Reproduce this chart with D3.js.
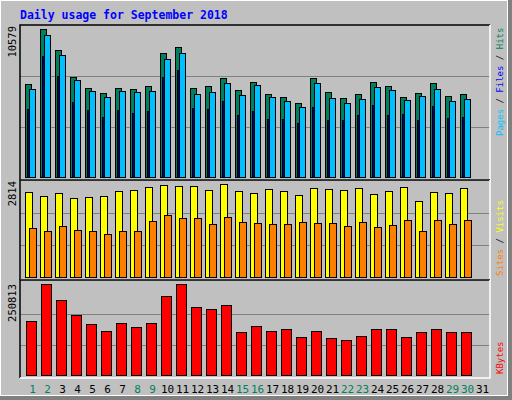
<!DOCTYPE html>
<html><head><meta charset="utf-8">
<script src="https://cdn.jsdelivr.net/npm/d3@7"></script>
<style>body{margin:0;background:#fff}</style>
</head><body><div class="chart"></div>
<script>
// daily values for September 2018
var days = d3.range(1, 32);
var weekends = [1, 2, 8, 9, 15, 16, 22, 23, 29, 30];
var hits = [6516,10369,8898,7006,6235,5885,6235,6165,6375,8687,9107,6235,6375,6936,6095,6656,5815,5605,5184,6936,5955,5535,5815,6656,6375,5605,5885,6586,5675,5815];
var files = [6165,9948,8547,6796,6025,5605,6025,5955,6025,8267,8687,5815,5955,6586,5745,6445,5605,5324,4904,6586,5535,5184,5465,6305,6095,5394,5675,6165,5324,5465];
var pages = [4764,8477,7076,5254,4694,4203,4694,4484,4624,7006,7496,4834,4764,5324,4344,4624,4063,4063,3783,4904,3993,3993,4344,5044,4344,4414,3993,4974,4133,4203];
var visits = [2481,2363,2451,2304,2334,2363,2510,2540,2628,2687,2657,2657,2540,2716,2510,2451,2569,2510,2392,2598,2569,2540,2598,2422,2510,2628,2216,2481,2451,2598];
var sites = [1422,1363,1481,1392,1363,1275,1363,1363,1628,1804,1716,1716,1539,1745,1598,1569,1539,1539,1598,1569,1569,1481,1598,1451,1510,1657,1363,1657,1539,1657];
var kbytes = [149207,250813,206875,165683,140968,121745,143714,132730,143714,217860,250813,187653,182160,193145,118999,135475,121745,127237,105268,121745,102522,97030,108014,127237,127237,105268,118999,127237,118999,118999];
var maxHits = 10579, maxVisits = 2814, maxKB = 250813;

var svg = d3.select(".chart").append("svg").attr("width", 512).attr("height", 400)
  .style("font-family", "DejaVu Sans Mono, monospace");

// frame
svg.append("rect").attr("width", 512).attr("height", 400).attr("fill", "#c0c0c0");
svg.append("rect").attr("x", 508).attr("width", 4).attr("height", 400).attr("fill", "#808080");
svg.append("rect").attr("y", 396).attr("width", 512).attr("height", 4).attr("fill", "#808080");
svg.append("rect").attr("x", 0.5).attr("y", 0.5).attr("width", 507).attr("height", 395).attr("fill", "none").attr("stroke", "#fff");

svg.append("text").attr("x", 20).attr("y", 19).attr("fill", "#0000ff")
  .attr("font-size", 11.5).attr("font-weight", "bold").text("Daily usage for September 2018");

var x = d3.scaleBand().domain(days).range([20, 485]);
var left = 20, right = 490;

function panel(y0, y1, top, max) {
  var y = d3.scaleLinear().domain([0, max]).range([y1, top]);
  svg.append("rect").attr("x", left).attr("y", y0).attr("width", right - left).attr("height", y1 - y0 + 3).attr("fill", "#c0c0c0");
  [1 / 3, 2 / 3].forEach(function (f) {
    svg.append("line").attr("x1", left).attr("x2", right).attr("y1", Math.round(y(max * f)) + 0.5).attr("y2", Math.round(y(max * f)) + 0.5)
      .attr("stroke", "#808080");
  });
  svg.append("path").attr("d", "M" + left + "," + (y1 + 3) + "V" + y0 + "H" + right).attr("fill", "none").attr("stroke", "#000").attr("stroke-width", 1.5);
  svg.append("path").attr("d", "M" + right + "," + y0 + "V" + (y1 + 3) + "H" + left).attr("fill", "none").attr("stroke", "#fff").attr("stroke-width", 1.5);
  svg.append("text").attr("transform", "translate(" + 16 + "," + top + ") rotate(-90)").attr("text-anchor", "end")
    .attr("font-size", 10.5).text(max);
  return y;
}

function bars(y, data, off, w, color) {
  svg.append("g").selectAll("rect").data(data).join("rect")
    .attr("x", function (d, i) { return x(i + 1) + off + 0.5; })
    .attr("y", function (d) { return Math.round(y(d)) + 0.5; })
    .attr("width", w).attr("height", function (d) { return y.range()[0] - Math.round(y(d)); })
    .attr("fill", color).attr("stroke", "#000");
}

function legend(yBottom, parts) {
  var t = svg.append("text").attr("transform", "translate(" + 503 + "," + yBottom + ") rotate(-90)").attr("font-size", 9);
  parts.forEach(function (p) { t.append("tspan").attr("fill", p[1]).text(p[0]); });
}

var y1 = panel(25, 177, 26, maxHits);
bars(y1, hits, 5, 6, "#00805c");
bars(y1, files, 9, 6, "#00c0ff");
bars(y1, pages, 7, 1.5, "#0000ff");
legend(136, [["Pages", "#00c0ff"], [" / ", "#000"], ["Files", "#0000ff"], [" / ", "#000"], ["Hits", "#00805c"]]);

var y2 = panel(180, 277, 181, maxVisits);
bars(y2, visits, 5, 7, "#ffff00");
bars(y2, sites, 9, 7, "#ff8000");
legend(276, [["Sites", "#ff8000"], [" / ", "#000"], ["Visits", "#ffff00"]]);

var y3 = panel(280, 375, 284, maxKB);
bars(y3, kbytes, 6, 10, "#ff0000");
legend(374, [["KBytes", "#ff0000"]]);

svg.append("g").selectAll("text").data(days).join("text")
  .attr("x", function (d) { return x(d) + 12.5; })
  .attr("y", 393).attr("text-anchor", "middle").attr("font-size", 11)
  .attr("fill", function (d) { return weekends.indexOf(d) >= 0 ? "#00805c" : "#000"; })
  .text(function (d) { return d; });
</script></body></html>
